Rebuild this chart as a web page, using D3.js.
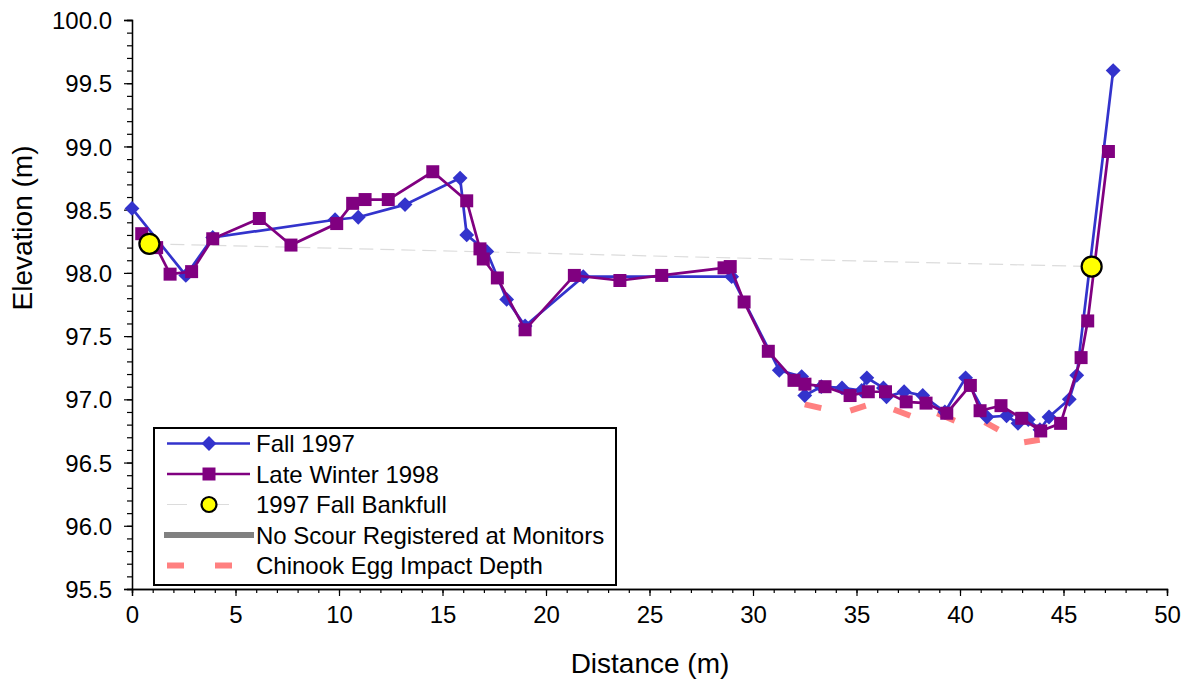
<!DOCTYPE html>
<html>
<head>
<meta charset="utf-8">
<script src="https://cdn.jsdelivr.net/npm/d3@7"></script>
<style>
  html, body { margin: 0; padding: 0; background: #fff; }
  svg { display: block; font-family: "Liberation Sans", Arial, sans-serif; }
</style>
</head>
<body>
<svg id="chart" width="1188" height="685"></svg>
<script>
// Cross-section survey: distance across the channel (m) vs bed elevation (m)
const fallDist = [0, 2.6, 3.9, 9.81, 10.93, 13.19, 15.85, 16.17, 17.14, 18.1, 18.99, 21.8, 28.97,
  31.27, 32.35, 32.5, 33.3, 34.3, 35.25, 35.5, 36.3, 36.45, 37.3, 38.2, 39.27, 40.27, 41.3, 42.25,
  42.8, 43.3, 43.86, 44.3, 45.28, 45.64, 47.4];
const fallElev = [98.51, 97.98, 98.28, 98.42, 98.44, 98.54, 98.75, 98.30, 98.17, 97.79, 97.58, 97.97, 97.97,
  97.23, 97.18, 97.03, 97.10, 97.09, 97.07, 97.17, 97.09, 97.02, 97.06, 97.03, 96.90, 97.17, 96.86, 96.87,
  96.81, 96.84, 96.76, 96.86, 97.00, 97.19, 99.60];

const winterDist = [0.47, 1.19, 1.84, 2.88, 3.9, 6.15, 7.68, 9.89, 10.66, 11.26, 12.38, 14.53, 16.17,
  16.81, 16.97, 17.65, 18.99, 21.37, 23.57, 25.59, 28.6, 28.9, 29.57, 30.74, 31.98, 32.51, 33.48, 34.69,
  35.57, 36.4, 37.4, 38.36, 39.36, 40.5, 40.97, 41.98, 42.98, 43.9, 44.86, 45.85, 46.17, 47.17];
const winterElev = [98.31, 98.20, 97.99, 98.01, 98.27, 98.43, 98.22, 98.39, 98.55, 98.58, 98.58, 98.80, 98.57,
  98.19, 98.11, 97.96, 97.55, 97.98, 97.94, 97.98, 98.04, 98.05, 97.77, 97.38, 97.15, 97.12, 97.10, 97.03,
  97.06, 97.06, 96.98, 96.97, 96.89, 97.11, 96.91, 96.95, 96.85, 96.75, 96.81, 97.33, 97.62, 98.96];

const bankfullDist = [0.84, 46.36];
const bankfullElev = [98.23, 98.05];

// Egg pocket depth, stored as start/end pairs of each dash
const eggDist = [32.5, 33.3, 34.7, 35.45, 36.8, 37.6, 38.9, 39.75, 41.2, 41.85, 43.1, 43.85];
const eggElev = [96.96, 96.93, 96.91, 96.95, 96.92, 96.87, 96.89, 96.83, 96.82, 96.76, 96.66, 96.68];

const xTicks = [0, 5, 10, 15, 20, 25, 30, 35, 40, 45, 50];
const yTicks = [95.5, 96.0, 96.5, 97.0, 97.5, 98.0, 98.5, 99.0, 99.5, 100.0];

const legendLabels = ["Fall 1997", "Late Winter 1998", "1997 Fall Bankfull",
  "No Scour Registered at Monitors", "Chinook Egg Impact Depth"];

const BLUE = "#3333cc", PURPLE = "#800080", SALMON = "#ff8080", GREY = "#808080";

const svg = d3.select("#chart");
const plotLeft = 132, plotRight = 1167, plotTop = 20, plotBottom = 589;

const x = d3.scaleLinear().domain([0, 50]).range([plotLeft, plotRight]);
const y = d3.scaleLinear().domain([95.5, 100]).range([plotBottom, plotTop]);

const zip = (a, b) => a.map((v, i) => [v, b[i]]);
const fall = zip(fallDist, fallElev);
const winter = zip(winterDist, winterElev);
const bank = zip(bankfullDist, bankfullElev);
const egg = zip(eggDist, eggElev);

const line = d3.line().x(d => x(d[0])).y(d => y(d[1]));

// Axes
const fontSize = 24;
const titleSize = 28;
const yMinor = d3.range(955, 1001).map(v => v / 10);
const xMinor = d3.range(0, 51);

const yAxisMinor = d3.axisLeft(y).tickValues(yMinor).tickSize(5).tickFormat("");
const yAxisMajor = d3.axisLeft(y).tickValues(yTicks).tickSize(8).tickPadding(12).tickFormat(d3.format(".1f"));
const xAxisMinor = d3.axisBottom(x).tickValues(xMinor).tickSize(4).tickFormat("");
const xAxisMajor = d3.axisBottom(x).tickValues(xTicks).tickSize(7).tickPadding(18).tickFormat(d3.format("d"));

function styleAxis(g) {
  g.selectAll("path").attr("stroke", "#000").attr("stroke-width", 1.3);
  g.selectAll("line").attr("stroke", "#000").attr("stroke-width", 1.2);
  g.selectAll("text").attr("fill", "#000").attr("font-size", fontSize)
    .attr("font-family", "Liberation Sans, Arial, sans-serif");
}

svg.append("g").attr("transform", `translate(${plotLeft},0)`).call(yAxisMinor).call(styleAxis);
svg.append("g").attr("transform", `translate(${plotLeft},0)`).call(yAxisMajor).call(styleAxis)
  .selectAll("text").attr("dy", "0.36em");
svg.append("g").attr("transform", `translate(0,${plotBottom})`).call(xAxisMinor).call(styleAxis);
svg.append("g").attr("transform", `translate(0,${plotBottom})`).call(xAxisMajor).call(styleAxis)
  .selectAll("text").attr("dy", "0.36em");

// Axis titles
svg.append("text")
  .attr("x", 650).attr("y", 663).attr("dy", "0.36em")
  .attr("text-anchor", "middle").attr("font-size", titleSize).text("Distance (m)");
svg.append("text")
  .attr("transform", `translate(22,228) rotate(-90)`)
  .attr("dy", "0.36em").attr("text-anchor", "middle").attr("font-size", titleSize).text("Elevation (m)");

// Bankfull line
svg.append("path").datum(bank).attr("d", line)
  .attr("fill", "none").attr("stroke", "#dcdcdc").attr("stroke-width", 1.2)
  .attr("stroke-dasharray", "14,7");

// Egg impact depth dashes
const eggPairs = d3.range(0, egg.length, 2).map(i => [egg[i], egg[i + 1]]);
svg.append("g").selectAll("path").data(eggPairs).join("path")
  .attr("d", line).attr("fill", "none").attr("stroke", SALMON).attr("stroke-width", 6);

// Fall 1997 series
svg.append("path").datum(fall).attr("d", line)
  .attr("fill", "none").attr("stroke", BLUE).attr("stroke-width", 2.7);
const diamond = d3.symbol().type(d3.symbolSquare).size(110);
svg.append("g").selectAll("path").data(fall).join("path")
  .attr("d", diamond)
  .attr("transform", d => `translate(${x(d[0])},${y(d[1])}) rotate(45)`)
  .attr("fill", BLUE);

// Late Winter 1998 series
svg.append("path").datum(winter).attr("d", line)
  .attr("fill", "none").attr("stroke", PURPLE).attr("stroke-width", 2.7);
const square = d3.symbol().type(d3.symbolSquare).size(169);
svg.append("g").selectAll("path").data(winter).join("path")
  .attr("d", square)
  .attr("transform", d => `translate(${x(d[0])},${y(d[1])})`)
  .attr("fill", PURPLE);

// Bankfull markers
svg.append("g").selectAll("circle").data(bank).join("circle")
  .attr("cx", d => x(d[0])).attr("cy", d => y(d[1])).attr("r", 10)
  .attr("fill", "#ffff00").attr("stroke", "#000").attr("stroke-width", 2.2);

// Legend
const lg = svg.append("g");
lg.append("rect").attr("x", 154).attr("y", 428).attr("width", 462).attr("height", 157)
  .attr("fill", "#fff").attr("stroke", "#000").attr("stroke-width", 2);
const rowY = i => 443.5 + i * 30.5;
const sx0 = 167, sx1 = 250, sxm = 209;
legendLabels.forEach((lab, i) => {
  lg.append("text").attr("x", 256).attr("y", rowY(i)).attr("dy", "0.36em")
    .attr("font-size", fontSize).text(lab);
});
// Fall 1997
lg.append("line").attr("x1", sx0).attr("x2", sx1).attr("y1", rowY(0)).attr("y2", rowY(0))
  .attr("stroke", BLUE).attr("stroke-width", 2.5);
lg.append("path").attr("d", diamond).attr("transform", `translate(${sxm},${rowY(0)}) rotate(45)`).attr("fill", BLUE);
// Late Winter 1998
lg.append("line").attr("x1", sx0).attr("x2", sx1).attr("y1", rowY(1)).attr("y2", rowY(1))
  .attr("stroke", PURPLE).attr("stroke-width", 2.5);
lg.append("path").attr("d", square).attr("transform", `translate(${sxm},${rowY(1)})`).attr("fill", PURPLE);
// Bankfull
lg.append("line").attr("x1", sx0).attr("x2", sx1).attr("y1", rowY(2)).attr("y2", rowY(2))
  .attr("stroke", "#dcdcdc").attr("stroke-width", 1.2).attr("stroke-dasharray", "20,22");
lg.append("circle").attr("cx", sxm).attr("cy", rowY(2)).attr("r", 7.5)
  .attr("fill", "#ffff00").attr("stroke", "#000").attr("stroke-width", 2.2);
// No scour
lg.append("line").attr("x1", 164).attr("x2", 254).attr("y1", rowY(3)).attr("y2", rowY(3))
  .attr("stroke", GREY).attr("stroke-width", 6);
// Egg depth
lg.append("line").attr("x1", 167).attr("x2", 250).attr("y1", rowY(4)).attr("y2", rowY(4))
  .attr("stroke", SALMON).attr("stroke-width", 6).attr("stroke-dasharray", "17,31");
</script>
</body>
</html>
